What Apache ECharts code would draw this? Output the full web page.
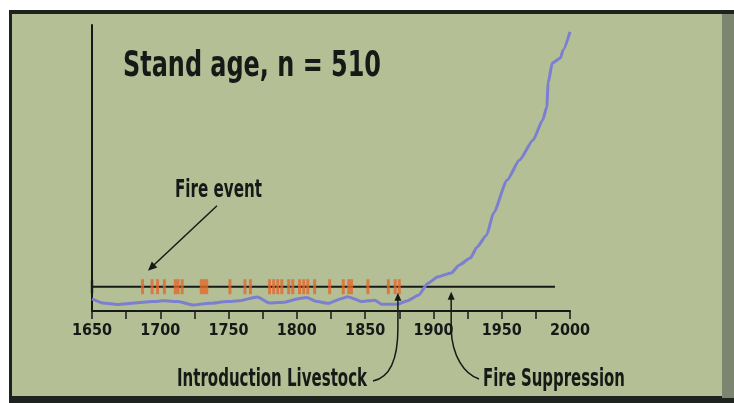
<!DOCTYPE html>
<html>
<head>
<meta charset="utf-8">
<script src="https://cdn.jsdelivr.net/npm/echarts@6/dist/echarts.min.js"></script>
<style>
  html, body { margin: 0; padding: 0; background: #fff; }
  #chart { width: 734px; height: 403px; }
</style>
</head>
<body>
<div id="chart"></div>
<script>
// stand age curve (year, relative height)
var ageYears = [1650, 1658, 1669, 1681, 1694, 1703, 1713, 1724, 1736, 1749, 1758, 1771, 1780, 1791,
  1802, 1807, 1815, 1823, 1833, 1837, 1848, 1857, 1862, 1874, 1881, 1889, 1896, 1903, 1913, 1919,
  1927, 1932, 1939, 1944, 1954, 1963, 1973, 1980, 1983, 1984, 1987, 1993, 1995, 2000]
var ageValues = [4.2, 2.8, 2.3, 2.8, 3.3, 3.6, 3.3, 2.1, 2.7, 3.3, 3.6, 4.9, 2.8, 3.1,
  4.4, 4.7, 3.3, 2.7, 4.4, 5.0, 3.3, 3.8, 2.4, 2.4, 3.6, 5.5, 9.7, 11.9, 13.3, 16.1,
  18.5, 22.4, 26.6, 34.3, 45.8, 52.8, 59.8, 66.8, 71.3, 79.7, 86.7, 88.5, 91.3, 97.6]

// fire events (years)
var fireYears = [1687, 1694, 1698, 1703, 1711, 1713, 1716, 1730, 1732, 1734, 1751, 1762, 1766,
  1780, 1783, 1786, 1789, 1794, 1797, 1802, 1805, 1808, 1813, 1824, 1834, 1838, 1840, 1852,
  1867, 1872, 1875]
var fireLineLevel = 8.5
var fireLineRange = [1650, 1989]

var livestockYear = 1874
var suppressionYear = 1913

var titleText = 'Stand age, n = 510'

var ink = '#161a16'
var fontFam = "'DejaVu Sans Condensed', 'Liberation Sans Narrow', 'DejaVu Sans', sans-serif"

var myChart = echarts.init(document.getElementById('chart'))

var option = {
  backgroundColor: '#ffffff',
  animation: false,
  grid: { left: 92, top: 25, right: 164, bottom: 92 },
  xAxis: {
    type: 'value',
    min: 1650,
    max: 2000,
    interval: 50,
    axisLine: { lineStyle: { color: ink, width: 2 } },
    axisTick: { show: true, length: 8, lineStyle: { color: ink, width: 1.5 } },
    minorTick: { show: true, splitNumber: 2, length: 8, lineStyle: { color: ink, width: 1.5 } },
    splitLine: { show: false },
    axisLabel: {
      color: ink, fontSize: 16, fontWeight: 'bold', fontFamily: fontFam, margin: 12,
      formatter: function (v) { return String(v) }
    }
  },
  yAxis: {
    type: 'value',
    min: 0,
    max: 100,
    axisLine: { show: true, lineStyle: { color: ink, width: 2 } },
    axisTick: { show: false },
    axisLabel: { show: false },
    splitLine: { show: false }
  },
  series: [
    {
      name: 'fire line',
      type: 'line',
      data: [[fireLineRange[0], fireLineLevel], [fireLineRange[1], fireLineLevel]],
      showSymbol: false,
      lineStyle: { color: ink, width: 2 },
      z: 2
    },
    {
      name: 'start cap',
      type: 'scatter',
      data: [[fireLineRange[0], fireLineLevel]],
      symbol: 'rect',
      symbolSize: [2.5, 13],
      itemStyle: { color: ink },
      z: 3
    },
    {
      name: 'fire events',
      type: 'scatter',
      data: fireYears.map(function (y) { return [y, fireLineLevel] }),
      symbol: 'rect',
      symbolSize: [3, 15],
      itemStyle: { color: '#e4692c' },
      z: 4
    },
    {
      name: 'stand age',
      type: 'line',
      data: ageYears.map(function (y, i) { return [y, ageValues[i]] }),
      showSymbol: false,
      smooth: 0.2,
      smoothMonotone: 'x',
      lineStyle: { color: '#7c7fd0', width: 3 },
      z: 5
    }
  ]
}
myChart.setOption(option, true)

// text squeezed to the width it takes in the picture
var ctx = document.createElement('canvas').getContext('2d')
function label(text, x, y, size, width) {
  var font = 'bold ' + size + 'px ' + fontFam
  ctx.font = font
  var w = ctx.measureText(text).width
  return {
    type: 'text', x: x, y: y, scaleX: width / w, z: 20,
    style: { text: text, font: font, fill: ink, textAlign: 'left', textVerticalAlign: 'middle' }
  }
}
function head(tip, from, len, half) {
  var dx = tip[0] - from[0], dy = tip[1] - from[1]
  var d = Math.sqrt(dx * dx + dy * dy)
  var ux = dx / d, uy = dy / d
  var bx = tip[0] - ux * len, by = tip[1] - uy * len
  return {
    type: 'polygon', z: 20,
    shape: { points: [tip, [bx - uy * half, by + ux * half], [bx + uy * half, by - ux * half]] },
    style: { fill: ink }
  }
}

var p0 = myChart.convertToPixel({ gridIndex: 0 }, [1691, fireLineLevel])
var pL = myChart.convertToPixel({ gridIndex: 0 }, [livestockYear, fireLineLevel])
var pS = myChart.convertToPixel({ gridIndex: 0 }, [suppressionYear, fireLineLevel])

var fireTip = [p0[0], p0[1] - 16]
var fireFrom = [fireTip[0] + 69, fireTip[1] - 65]
var lvTip = [pL[0], pL[1] + 6]
var spTip = [pS[0], pS[1] + 5]
var thin = { stroke: ink, lineWidth: 1.5, fill: null }

myChart.setOption({
  graphic: [
    { type: 'rect', z: -20, silent: true, shape: { x: 9, y: 10, width: 725, height: 393 }, style: { fill: '#1f231f' } },
    { type: 'rect', z: -19, silent: true, shape: { x: 12, y: 14, width: 710, height: 382 }, style: { fill: '#b4bf96' } },
    { type: 'rect', z: -19, silent: true, shape: { x: 722, y: 14, width: 12, height: 384 }, style: { fill: '#7b8670' } },

    label(titleText, 123, 67, 36, 258),
    label('Fire event', 175, 191, 24, 87),
    label('Introduction Livestock', 177, 380, 24, 190),
    label('Fire Suppression', 483, 380, 24, 142),

    { type: 'line', z: 20, shape: { x1: fireFrom[0], y1: fireFrom[1], x2: fireTip[0] + 4, y2: fireTip[1] - 4 }, style: thin },
    head(fireTip, fireFrom, 9, 4),

    { type: 'line', z: 20, shape: { x1: lvTip[0], y1: lvTip[1] + 6, x2: lvTip[0], y2: 328 }, style: thin },
    { type: 'bezierCurve', z: 20, shape: { x1: lvTip[0], y1: 328, cpx1: lvTip[0], cpy1: 362, cpx2: lvTip[0] - 10, cpy2: 378, x2: 373, y2: 381 }, style: thin },
    head(lvTip, [lvTip[0], lvTip[1] + 20], 8, 3.5),

    { type: 'line', z: 20, shape: { x1: spTip[0], y1: spTip[1] + 6, x2: spTip[0], y2: 330 }, style: thin },
    { type: 'bezierCurve', z: 20, shape: { x1: spTip[0], y1: 330, cpx1: spTip[0] + 1, cpy1: 356, cpx2: spTip[0] + 13, cpy2: 374, x2: 479, y2: 379 }, style: thin },
    head(spTip, [spTip[0], spTip[1] + 20], 8, 3.5)
  ]
})

window.onresize = function () { myChart.resize() }
</script>
</body>
</html>
